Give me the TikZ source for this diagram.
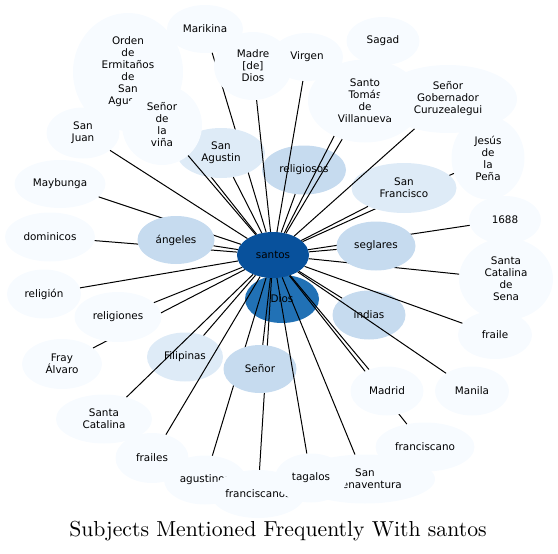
\documentclass[tikz,border=0pt]{standalone}
\usepackage{fontspec}
\setsansfont{DejaVu Sans}
\newfontfamily\titlefont{lmroman10-regular}[Extension=.otf]
\usepackage{xcolor}
\usepackage{tikz}
\usetikzlibrary{shapes.geometric}

\definecolor{hubblue}{HTML}{08519C}
\definecolor{diosblue}{HTML}{2171B5}
\definecolor{midblue}{HTML}{C6DBEF}
\definecolor{lightblue}{HTML}{DEEBF7}
\definecolor{paleblue}{HTML}{F7FBFF}

\begin{document}
\begin{tikzpicture}[x=1pt, y=-1pt,
  word/.style={ellipse, inner sep=0pt, align=center,
               font=\sffamily\fontsize{10.4}{12}\selectfont},
  dims/.style 2 args={minimum width=#1pt, minimum height=#2pt},
  pale/.style={word, fill=paleblue},
  light/.style={word, fill=lightblue},
  mid/.style={word, fill=midblue},
  link/.style={line width=1pt}
]
\useasboundingbox (0,0) rectangle (558,554);

\node[word, fill=diosblue, dims={74}{48}] (dios) at (282,299) {Dios};
\node[word, fill=hubblue, dims={72}{46}] (santos) at (273,255) {santos};

\node[mid, dims={84}{49}] (religiosos) at (304,170) {religiosos};
\node[light, dims={76}{49}] (filipinas) at (185,357) {Filipinas};
\node[mid, dims={73}{49}] (indias) at (369,315) {indias};
\node[pale, dims={76}{48}] (marikina) at (205,29) {Marikina};
\node[pale, dims={110}{118}] (orden) at (128,72) {Orden\\de\\Ermitaños\\de\\San\\Agustin};
\node[pale, dims={73}{48}] (sagad) at (383,41) {Sagad};
\node[pale, dims={72}{48}] (y1688) at (505,220) {1688};
\node[pale, dims={94}{82}] (sena) at (506,279) {Santa\\Catalina\\de\\Sena};
\node[pale, dims={73}{83}] (jesus) at (488,158) {Jesús\\de\\la\\Peña};
\node[pale, dims={80}{50}] (alvaro) at (62,364) {Fray\\Álvaro};
\node[pale, dims={99}{49}] (franciscano) at (425,447) {franciscano};
\node[pale, dims={82}{49}] (agustinos) at (205,480) {agustinos};
\node[pale, dims={94}{48}] (franciscanos) at (258,494) {franciscanos};
\node[pale, dims={90}{49}] (dominicos) at (50,237) {dominicos};
\node[pale, dims={91}{48}] (maybunga) at (60,184) {Maybunga};

\draw[link] (santos) -- (marikina);
\draw[link] (santos) -- (orden);
\draw[link] (santos) -- (sagad);
\draw[link] (santos) -- (y1688);
\draw[link] (santos) -- (sena);
\draw[link] (santos) -- (jesus);
\draw[link] (santos) -- (alvaro);
\draw[link] (santos) -- (franciscano);
\draw[link] (santos) -- (agustinos);
\draw[link] (santos) -- (franciscanos);
\draw[link] (santos) -- (dominicos);
\draw[link] (santos) -- (maybunga);

\node[light, dims={88}{50}] (sanagustin) at (221,153) {San\\Agustin};
\node[pale, dims={80}{80}] (vina) at (162,125) {Señor\\de\\la\\viña};
\node[pale, dims={114}{83}] (santotomas) at (365,101) {Santo\\Tomás\\de\\Villanueva};
\node[mid, dims={79}{49}] (seglares) at (376,246) {seglares};
\node[light, dims={105}{50}] (sanfrancisco) at (404,188) {San\\Francisco};
\node[pale, dims={87}{50}] (religiones) at (118,317) {religiones};
\node[pale, dims={73}{49}] (madrid) at (387,391) {Madrid};
\node[mid, dims={73}{48}] (senor) at (260,369) {Señor};
\node[mid, dims={77}{48}] (angeles) at (176,240) {ángeles};

\node[pale, dims={78}{68}] (madre) at (253,66) {Madre\\{[de]}\\Dios};
\node[pale, dims={72}{48}] (virgen) at (307,57) {Virgen};
\node[pale, dims={138}{68}] (gobernador) at (448,99) {Señor\\Gobernador\\Curuzealegui};
\node[pale, dims={74}{48}] (fraile) at (495,335) {fraile};
\node[pale, dims={74}{49}] (manila) at (472,391) {Manila};
\node[pale, dims={140}{49}] (buenaventura) at (365,479) {San\\Buenaventura};
\node[pale, dims={72}{49}] (tagalos) at (311,478) {tagalos};
\node[pale, dims={73}{50}] (frailes) at (152,458) {frailes};
\node[pale, dims={96}{49}] (catalina) at (104,419) {Santa\\Catalina};
\node[pale, dims={74}{49}] (religion) at (44,294) {religión};
\node[pale, dims={73}{51}] (sanjuan) at (83,133) {San\\Juan};

\draw[link] (santos) -- (religiosos);
\draw[link] (santos) -- (filipinas);
\draw[link] (santos) -- (indias);
\draw[link] (santos) -- (sanagustin);
\draw[link] (santos) -- (vina);
\draw[link] (santos) -- (santotomas);
\draw[link] (santos) -- (seglares);
\draw[link] (santos) -- (sanfrancisco);
\draw[link] (santos) -- (religiones);
\draw[link] (santos) -- (madrid);
\draw[link] (santos) -- (senor);
\draw[link] (santos) -- (angeles);
\draw[link] (santos) -- (madre);
\draw[link] (santos) -- (virgen);
\draw[link] (santos) -- (gobernador);
\draw[link] (santos) -- (fraile);
\draw[link] (santos) -- (manila);
\draw[link] (santos) -- (buenaventura);
\draw[link] (santos) -- (tagalos);
\draw[link] (santos) -- (frailes);
\draw[link] (santos) -- (catalina);
\draw[link] (santos) -- (religion);
\draw[link] (santos) -- (sanjuan);

\node[font=\titlefont\fontsize{21.7}{25}\selectfont] (title) at (278,531)
  {Subjects Mentioned Frequently With santos};
\end{tikzpicture}
\end{document}
